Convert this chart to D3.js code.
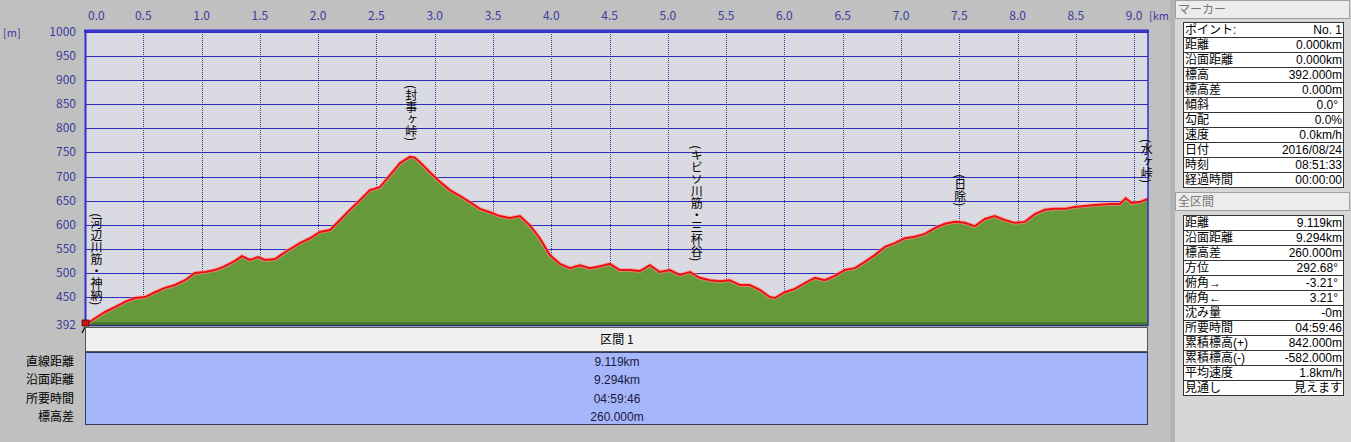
<!DOCTYPE html>
<html><head><meta charset="utf-8">
<script src="https://cdn.jsdelivr.net/npm/d3@7"></script>
<style>
html,body{margin:0;padding:0;background:#c0c0c0;}
svg{display:block;}
text{font-family:"Noto Sans CJK JP","DejaVu Sans",sans-serif;}
.tb{font-family:"Liberation Sans","Noto Sans CJK JP",sans-serif;}
</style></head>
<body><svg id="c" width="1351" height="442"></svg>
<script>
// ---- data ----
const distKm = [0.000,0.086,0.172,0.257,0.343,0.429,0.515,0.600,0.686,0.772,0.858,0.943,1.029,1.115,1.201,1.286,1.346,1.415,1.484,1.544,1.630,1.715,1.844,1.930,2.015,2.101,2.187,2.273,2.358,2.444,2.530,2.616,2.702,2.787,2.830,2.873,2.959,3.045,3.130,3.216,3.302,3.388,3.473,3.559,3.645,3.731,3.816,3.902,3.988,4.074,4.160,4.245,4.331,4.417,4.503,4.588,4.674,4.760,4.846,4.931,5.017,5.103,5.189,5.274,5.360,5.446,5.532,5.617,5.703,5.789,5.875,5.918,6.003,6.089,6.175,6.261,6.346,6.432,6.518,6.604,6.690,6.775,6.861,6.947,7.033,7.118,7.204,7.290,7.376,7.461,7.547,7.633,7.719,7.804,7.890,7.976,8.062,8.148,8.233,8.319,8.405,8.491,8.576,8.662,8.791,8.877,8.928,8.979,9.048,9.108,9.119];
const elevM = [392,406,419,429,440,448,450,460,469,475,485,500,502,506,514,525,535,527,533,527,529,543,562,572,585,589,610,631,651,672,678,703,728,741,739,730,709,689,672,660,647,633,626,618,614,618,599,572,537,519,510,516,510,514,519,506,506,504,516,502,506,496,502,490,485,483,485,475,475,465,450,448,460,467,479,490,485,494,506,510,523,537,554,562,572,575,581,593,602,606,604,597,612,618,610,604,606,622,631,633,633,637,639,641,643,643,655,645,647,653,652];
const yTickVals = [392,450,500,550,600,650,700,750,800,850,900,950,1000];
const xTickVals = [0,0.5,1,1.5,2,2.5,3,3.5,4,4.5,5,5.5,6,6.5,7,7.5,8,8.5,9];
const placeNames = ["(河辺川筋・神納)","(封事ヶ峠)","(キビソ川筋・三杯谷)","(日除)","(水ヶ峠)"];
const placeKm = [0.09,2.79,5.24,7.50,9.10];
const placeTopElev = [624,890,765,705,778];
const sectionName = "区間 1";
const sectionLabels = ["直線距離","沿面距離","所要時間","標高差"];
const sectionValues = ["9.119km","9.294km","04:59:46","260.000m"];
const markerLabels = ["ポイント:","距離","沿面距離","標高","標高差","傾斜","勾配","速度","日付","時刻","経過時間"];
const markerValues = ["No. 1","0.000km","0.000km","392.000m","0.000m","0.0°","0.0%","0.0km/h","2016/08/24","08:51:33","00:00:00"];
const totalLabels = ["距離","沿面距離","標高差","方位","俯角→","俯角←","沈み量","所要時間","累積標高(+)","累積標高(-)","平均速度","見通し"];
const totalValues = ["9.119km","9.294km","260.000m","292.68°","-3.21°","3.21°","-0m","04:59:46","842.000m","-582.000m","1.8km/h","見えます"];

const svg = d3.select("#c");
const x = d3.scaleLinear().domain([0, 9.119]).range([85, 1148]);
const y = d3.scaleLinear().domain([392, 1000]).range([325, 32]);
const pts = distKm.map((d,i)=>[d, elevM[i]]);

// plot background
svg.append("rect").attr("x",85).attr("y",32).attr("width",1063).attr("height",293).attr("fill","#dadae2");

// horizontal grid
svg.append("g").selectAll("line").data(yTickVals.filter(v=>v>392)).join("line")
  .attr("x1",85).attr("x2",1148).attr("y1",d=>Math.round(y(d))+0.5).attr("y2",d=>Math.round(y(d))+0.5)
  .attr("stroke","#2c2cb8").attr("stroke-width",1);
// vertical dotted grid
svg.append("g").selectAll("line").data(xTickVals.filter(v=>v>0)).join("line")
  .attr("x1",d=>Math.round(x(d))+0.5).attr("x2",d=>Math.round(x(d))+0.5).attr("y1",32).attr("y2",325)
  .attr("stroke","#3a3a90").attr("stroke-width",1).attr("stroke-dasharray","1,1");

// area
const area = d3.area().x(d=>x(d[0])).y0(y(392)).y1(d=>y(d[1]));
svg.append("path").datum(pts).attr("d",area).attr("fill","#66993a");
svg.append("rect").attr("x",85).attr("y",322).attr("width",1063).attr("height",3).attr("fill","#4a7a2c");
const line = d3.line().x(d=>x(d[0])).y(d=>y(d[1]));
svg.append("path").datum(pts).attr("d",line).attr("fill","none").attr("stroke","#ff9090").attr("stroke-width",4).attr("stroke-opacity",0.6);
svg.append("path").datum(pts).attr("d",line).attr("fill","none").attr("stroke","#ee1010").attr("stroke-width",2);

// borders
svg.append("line").attr("x1",84).attr("x2",1149).attr("y1",31).attr("y2",31).attr("stroke","#3434c8").attr("stroke-width",3);
svg.append("line").attr("x1",85.5).attr("x2",85.5).attr("y1",30).attr("y2",326).attr("stroke","#3030d0").attr("stroke-width",2);
svg.append("line").attr("x1",1148).attr("x2",1148).attr("y1",30).attr("y2",326).attr("stroke","#3030c0").attr("stroke-width",1.5);
svg.append("line").attr("x1",85).attr("x2",1148).attr("y1",325.5).attr("y2",325.5).attr("stroke","#303080").attr("stroke-width",1.5);

// y tick labels
svg.append("g").selectAll("text").data(yTickVals).join("text")
  .attr("x",76).attr("y",d=>y(d)+4).attr("text-anchor","end")
  .attr("font-size",12).attr("fill","#3c3c9c").text(d=>d);
svg.append("text").attr("x",3).attr("y",37).attr("font-size",11).attr("fill","#3c3c9c").text("[m]");
// x tick labels
svg.append("g").selectAll("text").data(xTickVals).join("text")
  .attr("x",d=>d===0?x(d)+3:x(d)).attr("y",20).attr("text-anchor",d=>d===0?"start":"middle")
  .attr("font-size",12).attr("fill","#3c3c9c").text(d=>d.toFixed(1));
svg.append("text").attr("x",1149).attr("y",20).attr("font-size",11).attr("fill","#3c3c9c").text("[km]");

// place names (vertical)
svg.append("g").selectAll("text").data(placeNames).join("text")
  .attr("x",(d,i)=>x(placeKm[i])+1).attr("y",(d,i)=>y(placeTopElev[i]))
  .attr("style","writing-mode:vertical-rl;").attr("font-size",12).attr("fill","#000")
  .text(d=>d);

// start marker
svg.append("path").attr("d","M82,320 L89,320 L89,326 L82,326 Z").attr("fill","#c01818").attr("stroke","#500").attr("stroke-width",0.8);
svg.append("path").attr("d","M85,327 L82,333 M85,327 L88,333").attr("stroke","#222").attr("stroke-width",1.5);

// section table
svg.append("rect").attr("x",85.5).attr("y",327.5).attr("width",1062).attr("height",24).attr("fill","#f0f0f0").attr("stroke","#555");
svg.append("text").attr("x",617).attr("y",344).attr("text-anchor","middle").attr("font-size",12).attr("fill","#000").text(sectionName);
svg.append("rect").attr("x",85.5).attr("y",352.5).attr("width",1062).attr("height",72).attr("fill","#a6b6fa").attr("stroke","#333a60");
svg.append("g").selectAll("text").data(sectionValues).join("text").attr("class","tb")
  .attr("x",617).attr("y",(d,i)=>366+i*18.3).attr("text-anchor","middle").attr("font-size",12).attr("fill","#1a1a40").text(d=>d);
svg.append("g").selectAll("text").data(sectionLabels).join("text")
  .attr("x",74).attr("y",(d,i)=>366+i*18.3).attr("text-anchor","end").attr("font-size",12).attr("fill","#000").text(d=>d);

// right panel
svg.append("rect").attr("x",1170).attr("y",0).attr("width",181).attr("height",442).attr("fill","#d6d6d6");
svg.append("rect").attr("x",1170).attr("y",0).attr("width",5).attr("height",442).attr("fill","#b4b4b4");
function header(yTop, label){
  svg.append("rect").attr("x",1175.5).attr("y",yTop+0.5).attr("width",174).attr("height",18).attr("fill","#ececec").attr("stroke","#a0a0a0");
  svg.append("text").attr("x",1178).attr("y",yTop+14).attr("font-size",12).attr("fill","#777").text(label);
}
function table(yTop, rowH, labels, values){
  const g = svg.append("g");
  g.selectAll("rect").data(labels).join("rect")
    .attr("x",1183.5).attr("y",(d,i)=>yTop+i*rowH+0.5).attr("width",160).attr("height",rowH)
    .attr("fill","#fff").attr("stroke","#333").attr("stroke-width",1);
  g.selectAll("text.l").data(labels).join("text").attr("class","l tb")
    .attr("x",1185).attr("y",(d,i)=>yTop+i*rowH+rowH-3).attr("font-size",12).attr("fill","#000").text(d=>d);
  g.selectAll("text.v").data(values).join("text").attr("class","v tb")
    .attr("x",d=>d.endsWith("°")?1338:1342).attr("y",(d,i)=>yTop+i*rowH+rowH-3).attr("text-anchor","end")
    .attr("font-size",12).attr("fill","#000").text(d=>d);
}
header(0,"マーカー");
table(22,15,markerLabels,markerValues);
header(192,"全区間");
table(215,15,totalLabels,totalValues);
</script></body></html>
